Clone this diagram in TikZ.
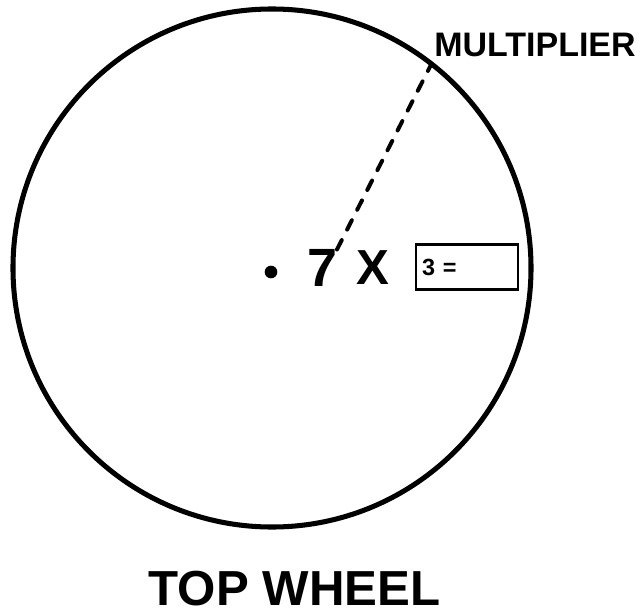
\documentclass[tikz,border=0pt]{standalone}
\usepackage{fontspec}
\setmainfont{Liberation Sans}
\usetikzlibrary{positioning}

\begin{document}
\begin{tikzpicture}[
    x=0.03cm,
    y=-0.03cm,
    roda/.style={
        draw,
        circle,
        line width=4.3pt,
        inner sep=0pt,
        outer sep=0pt,
        minimum size=15.54cm
    },
    ponto/.style={
        circle,
        fill=black,
        inner sep=0pt,
        minimum size=0.38cm
    },
    rotulo/.style={
        inner sep=0pt,
        outer sep=0pt
    },
    quadro/.style={
        draw,
        line width=2.5pt,
        inner xsep=0.18cm,
        inner ysep=0pt,
        text width=2.7cm,
        minimum height=1.35cm,
        align=left,
        font=\fontsize{20}{20}\selectfont\bfseries
    },
    tracejado/.style={
        line width=3.4pt,
        line cap=round,
        dash pattern=on 9pt off 10pt
    }
]

\useasboundingbox (0,0) rectangle (641,615);

\node[roda] (roda) at (272,268) {};

\node[ponto] (centro) at (271,272) {};

\node[rotulo, font=\fontsize{46}{46}\selectfont\bfseries] (sete) at (322,268) {7};
\node[rotulo, font=\fontsize{42}{42}\selectfont\bfseries] (vezes) at (373,268) {X};

\node[quadro] (produto) at (467,267) {3 =};

\node[rotulo, font=\fontsize{29}{29}\selectfont\bfseries] (mult) at (535,44.5) {MULTIPLIER};

\node[rotulo, font=\fontsize{42}{42}\selectfont\bfseries] (titulo) at (294.5,588.5) {TOP WHEEL};

\draw[tracejado] (sete.north east) -- (roda.52.4);

\end{tikzpicture}
\end{document}
